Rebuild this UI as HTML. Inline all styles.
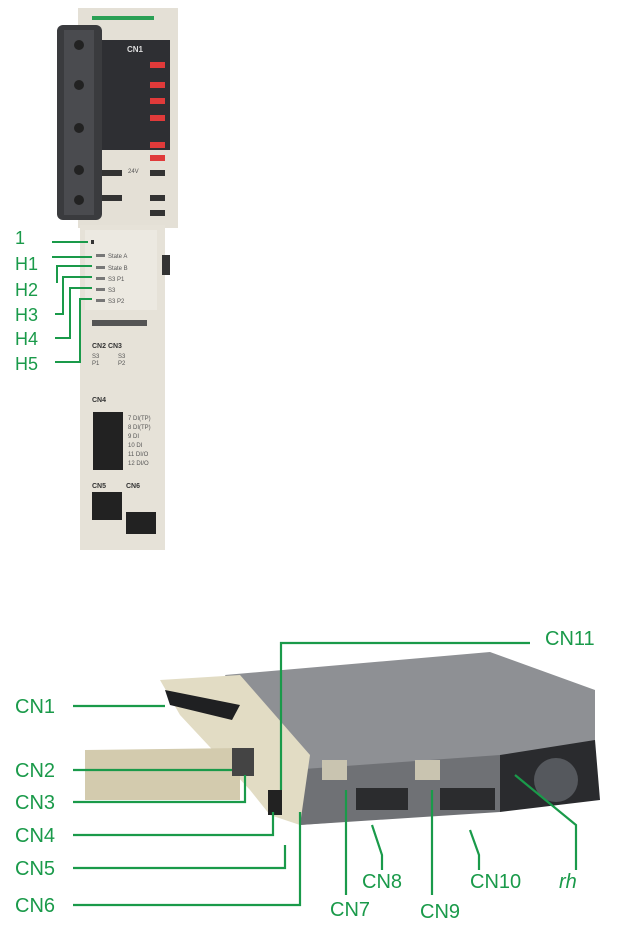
<!DOCTYPE html>
<html><head><meta charset="utf-8"><style>
html,body{margin:0;padding:0;background:#fff}
svg{display:block}
text{font-family:"Liberation Sans",sans-serif;fill:#1a9a4a}
.s{font-size:6px;fill:#555}
</style></head><body>
<svg width="619" height="927" viewBox="0 0 619 927" xmlns="http://www.w3.org/2000/svg">
<!-- top module -->
<rect x="78" y="8" width="100" height="220" fill="#e4e0d6"/>
<rect x="92" y="16" width="62" height="4" fill="#2aa055"/>
<rect x="57" y="25" width="45" height="195" rx="6" fill="#3a3b3e"/>
<rect x="64" y="30" width="30" height="185" fill="#4a4b4f"/>
<g fill="#222"><circle cx="79" cy="45" r="5"/><circle cx="79" cy="85" r="5"/><circle cx="79" cy="128" r="5"/><circle cx="79" cy="170" r="5"/><circle cx="79" cy="200" r="5"/></g>
<rect x="102" y="40" width="68" height="110" fill="#2e2f33"/>
<text x="127" y="52" font-size="8" font-weight="bold" style="fill:#ddd">CN1</text>
<g fill="#e03a3a"><rect x="150" y="62" width="15" height="6"/><rect x="150" y="82" width="15" height="6"/><rect x="150" y="98" width="15" height="6"/><rect x="150" y="115" width="15" height="6"/><rect x="150" y="142" width="15" height="6"/><rect x="150" y="155" width="15" height="6"/></g>
<g fill="#333"><rect x="150" y="170" width="15" height="6"/><rect x="150" y="195" width="15" height="6"/><rect x="150" y="210" width="15" height="6"/><rect x="102" y="170" width="20" height="6"/><rect x="102" y="195" width="20" height="6"/></g>
<text x="128" y="173" class="s">24V</text>
<rect x="80" y="225" width="85" height="325" fill="#e6e2d8"/>
<rect x="85" y="230" width="72" height="80" fill="#ece9e1"/>
<rect x="162" y="255" width="8" height="20" fill="#333"/>
<rect x="91" y="240" width="3" height="4" fill="#333"/>
<g fill="#777"><rect x="96" y="254" width="9" height="3"/><rect x="96" y="266" width="9" height="3"/><rect x="96" y="277" width="9" height="3"/><rect x="96" y="288" width="9" height="3"/><rect x="96" y="299" width="9" height="3"/></g>
<text x="108" y="258" class="s">State A</text><text x="108" y="270" class="s">State B</text><text x="108" y="281" class="s">S3 P1</text><text x="108" y="292" class="s">S3</text><text x="108" y="303" class="s">S3 P2</text>
<rect x="92" y="320" width="55" height="6" fill="#555"/>
<text x="92" y="348" font-size="7" font-weight="bold" style="fill:#333">CN2  CN3</text>
<text x="92" y="358" class="s">S3</text><text x="118" y="358" class="s">S3</text>
<text x="92" y="365" class="s">P1</text><text x="118" y="365" class="s">P2</text>
<text x="92" y="402" font-size="7" font-weight="bold" style="fill:#333">CN4</text>
<rect x="93" y="412" width="30" height="58" fill="#222"/>
<text x="128" y="420" class="s">7 DI(TP)</text><text x="128" y="429" class="s">8 DI(TP)</text><text x="128" y="438" class="s">9 DI</text><text x="128" y="447" class="s">10 DI</text><text x="128" y="456" class="s">11 DI/O</text><text x="128" y="465" class="s">12 DI/O</text>
<text x="92" y="488" font-size="7" font-weight="bold" style="fill:#333">CN5</text>
<text x="126" y="488" font-size="7" font-weight="bold" style="fill:#333">CN6</text>
<rect x="92" y="492" width="30" height="28" fill="#222"/>
<rect x="126" y="512" width="30" height="22" fill="#222"/>
<g stroke="#1a9a4a" stroke-width="2" fill="none">
<path d="M52 242H88"/><path d="M52 257H92"/><path d="M57 283V266H92"/><path d="M55 314H63V277H92"/><path d="M55 338H70V288H92"/><path d="M55 362H80V299H92"/>
</g>
<g font-size="18"><text x="15" y="244">1</text><text x="15" y="270">H1</text><text x="15" y="296">H2</text><text x="15" y="321">H3</text><text x="15" y="345">H4</text><text x="15" y="370">H5</text></g>
<!-- bottom device -->
<polygon points="225,675 490,652 595,690 595,800 500,810 300,825" fill="#8e9094"/>
<polygon points="290,770 500,755 500,812 300,825" fill="#6f7175"/>
<polygon points="500,755 595,740 600,800 500,812" fill="#2a2b2e"/>
<circle cx="556" cy="780" r="22" fill="#55585d"/>
<polygon points="160,680 240,675 310,755 300,825 270,815 250,790 180,715" fill="#e2dcc4"/>
<polygon points="165,690 240,705 232,720 170,705" fill="#1f2022"/>
<polygon points="85,750 240,748 240,800 85,800" fill="#d3cbae"/>
<rect x="232" y="748" width="22" height="28" fill="#444"/>
<rect x="322" y="760" width="25" height="20" fill="#c9c4b0"/>
<rect x="415" y="760" width="25" height="20" fill="#c9c4b0"/>
<rect x="356" y="788" width="52" height="22" fill="#2b2c2e"/>
<rect x="440" y="788" width="55" height="22" fill="#2b2c2e"/>
<rect x="268" y="790" width="14" height="25" fill="#222"/>
<g stroke="#1a9a4a" stroke-width="2.2" fill="none">
<path d="M530 643H281V790"/>
<path d="M73 706H165"/>
<path d="M73 770H232"/>
<path d="M73 802H245V775"/>
<path d="M73 835H273V812"/>
<path d="M73 868H285V845"/>
<path d="M73 905H300V812"/>
<path d="M346 895V790"/>
<path d="M382 870V855L372 825"/>
<path d="M432 895V790"/>
<path d="M479 870V855L470 830"/>
<path d="M576 870V825L515 775"/>
</g>
<g font-size="20"><text x="15" y="713">CN1</text><text x="15" y="777">CN2</text><text x="15" y="809">CN3</text><text x="15" y="842">CN4</text><text x="15" y="875">CN5</text><text x="15" y="912">CN6</text>
<text x="545" y="645">CN11</text><text x="330" y="916">CN7</text><text x="362" y="888">CN8</text><text x="420" y="918">CN9</text><text x="470" y="888">CN10</text><text x="559" y="888" font-style="italic">rh</text></g>
</svg>
</body></html>
